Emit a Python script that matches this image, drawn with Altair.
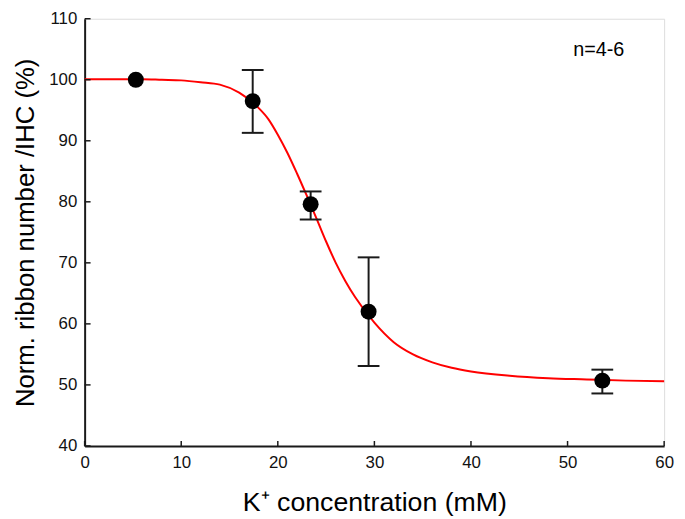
import altair as alt
import pandas as pd

# Measured points (K+ concentration, mM) with error bars
conc = [5.3, 17.4, 23.4, 29.4, 53.6]
ribbon = [100.0, 96.5, 79.6, 62.0, 50.7]
err_hi = [100.0, 101.6, 81.7, 70.9, 52.5]
err_lo = [100.0, 91.3, 77.1, 53.1, 48.6]

# Fitted curve
curve_x = [0, 2, 4, 6, 8, 10, 12, 14, 16, 18, 19, 20, 21, 22, 23, 24, 25, 26, 27, 28,
           30, 32, 34, 36, 38, 40, 44, 48, 52, 56, 60]
curve_y = [100.1, 100.1, 100.1, 100.1, 100.0, 99.9, 99.6, 99.2, 97.9, 95.4, 93.6, 91.0,
           88.0, 84.6, 81.0, 77.3, 73.5, 70.0, 67.0, 64.4, 60.2, 57.0, 55.0, 53.7, 52.8,
           52.2, 51.5, 51.1, 50.9, 50.7, 50.6]

x_ticks = [0, 10, 20, 30, 40, 50, 60]
y_ticks = [40, 50, 60, 70, 80, 90, 100, 110]
annotation = ["n=4-6"]

W, H = 586, 432
FONT = "Liberation Sans"

pts = pd.DataFrame({"x": conc, "y": ribbon, "hi": err_hi, "lo": err_lo})
eb = pts[pts["hi"] != pts["lo"]]
curve = pd.DataFrame({"x": curve_x, "y": curve_y})

xs = alt.Scale(domain=[0, 60], nice=False, zero=False)
ys = alt.Scale(domain=[40, 110], nice=False, zero=False)

xaxis = alt.Axis(values=x_ticks, ticks=False, grid=False, domainColor="#1a1a1a",
                 domainWidth=2, labelFontSize=17, labelFont=FONT, labelColor="#111",
                 labelPadding=9, title="K\u207a concentration (mM)", titleFont=FONT,
                 titleFontSize=27, titleFontWeight="normal", titleColor="#000",
                 titlePadding=19, labelFlush=False)
yaxis = alt.Axis(values=y_ticks, ticks=False, grid=False, domainColor="#1a1a1a",
                 domainWidth=2, labelFontSize=17, labelFont=FONT, labelColor="#111",
                 labelPadding=8, title="Norm. ribbon number /IHC (%)", titleFont=FONT,
                 titleFontSize=26, titleFontWeight="normal", titleColor="#000",
                 titlePadding=10, labelFlush=False)

line = alt.Chart(curve).mark_line(color="#ff0000", strokeWidth=2, interpolate="monotone").encode(
    x=alt.X("x:Q", scale=xs, axis=xaxis),
    y=alt.Y("y:Q", scale=ys, axis=yaxis),
)

bars = alt.Chart(eb).mark_rule(color="#1a1a1a", strokeWidth=2).encode(
    x=alt.X("x:Q", scale=xs), y=alt.Y("lo:Q", scale=ys), y2="hi:Q"
)
cap_hi = alt.Chart(eb).mark_tick(color="#1a1a1a", orient="horizontal", size=22, thickness=2, opacity=1).encode(
    x=alt.X("x:Q", scale=xs), y=alt.Y("hi:Q", scale=ys)
)
cap_lo = alt.Chart(eb).mark_tick(color="#1a1a1a", orient="horizontal", size=22, thickness=2, opacity=1).encode(
    x=alt.X("x:Q", scale=xs), y=alt.Y("lo:Q", scale=ys)
)
dots = alt.Chart(pts).mark_point(filled=True, shape="circle", size=260, color="#000", opacity=1).encode(
    x=alt.X("x:Q", scale=xs), y=alt.Y("y:Q", scale=ys)
)

xt = alt.Chart(pd.DataFrame({"t": x_ticks})).mark_rule(color="#1a1a1a", strokeWidth=1.5).encode(
    x=alt.X("t:Q", scale=xs), y=alt.value(H), y2=alt.value(H - 5)
)
yt = alt.Chart(pd.DataFrame({"t": y_ticks})).mark_rule(color="#1a1a1a", strokeWidth=1.5).encode(
    y=alt.Y("t:Q", scale=ys), x=alt.value(0), x2=alt.value(6)
)

note = alt.Chart(pd.DataFrame({"label": annotation})).mark_text(
    font=FONT, fontSize=20, align="left", baseline="alphabetic", color="#000"
).encode(x=alt.value(494), y=alt.value(38), text="label:N")

chart = alt.layer(line, bars, cap_hi, cap_lo, dots, xt, yt, note).properties(
    width=W, height=H,
    autosize=alt.AutoSizeParams(type="none"),
    padding={"left": 77.5, "top": 8, "right": 13, "bottom": 68},
).configure_view(stroke=None).configure(background="white")

chart.save("out.html", embed_options={"renderer": "svg", "actions": False})
